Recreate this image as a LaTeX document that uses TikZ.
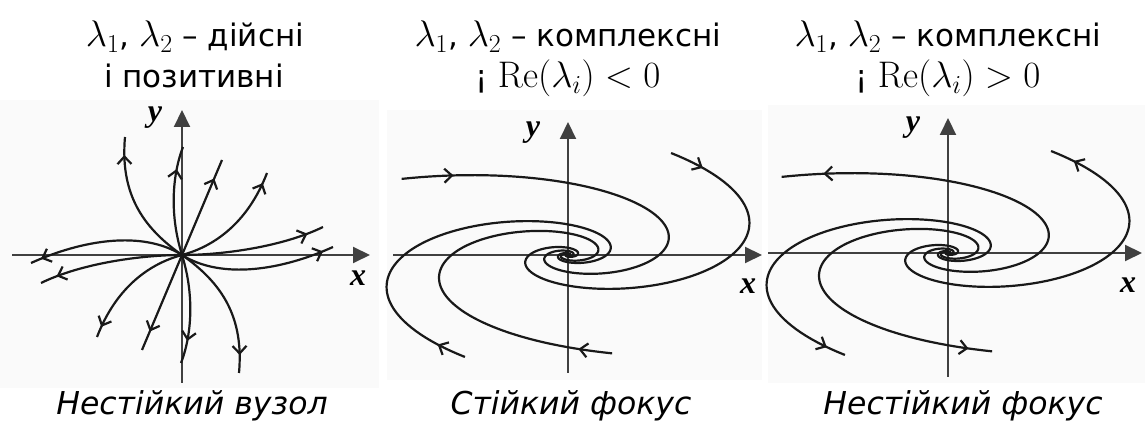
\RequirePackage{fix-cm}
\documentclass[tikz,border=0pt]{standalone}
\usepackage[no-math]{fontspec}
\setmainfont{DejaVu Sans}
\newfontfamily\axfont{Liberation Serif}
\usetikzlibrary{arrows.meta, decorations.markings}
\newcommand\mth[1]{{\fontsize{37}{40}\selectfont$#1$}}

\begin{document}
\begin{tikzpicture}[
  x=1pt, y=1pt,
  >={Straight Barb[length=7.5pt,width=14pt]},
  declare function={spx(\kk,\vv)=2.6*\kk*exp(0.46*\vv)*cos(\vv r);
                    spy(\kk,\vv)=\kk*exp(0.46*\vv)*sin(\vv r);},
  panel/.style={fill=black!2, draw=none},
  axis/.style={line width=2pt, black!75, -{Triangle[length=17pt,width=16pt]}},
  traj/.style={line width=2.2pt, line join=round, black!90},
  tipat/.style={postaction={decorate},
                decoration={markings, mark=at position #1 with {\arrow{>}}}},
  head/.style={font=\fontsize{31}{36}\selectfont, anchor=base},
  caption/.style={font=\fontsize{31.5}{36}\selectfont\itshape, anchor=base},
  axlabel/.style={font=\fontsize{32}{36}\selectfont\axfont\bfseries\itshape}
]
  \useasboundingbox (0,0) rectangle (1145,430);

  % panels
  \fill[panel] (0,42) rectangle (379,330);
  \fill[panel] (387,50) rectangle (762,320);
  \fill[panel] (768,47) rectangle (1145,325);

  % titles
  \node[head] (h1a) at (195,383) {\mth{\lambda_1}, \mth{\lambda_2} – дійсні};
  \node[head] (h1b) at (194,342) {і позитивні};
  \node[head] (h2a) at (568,383) {\mth{\lambda_1}, \mth{\lambda_2} – комплексні};
  \node[head] (h2b) at (568,342) {¡ \mth{\mathrm{Re}\bigl(\lambda_i\bigr)<0}};
  \node[head] (h3a) at (948,383) {\mth{\lambda_1}, \mth{\lambda_2} – комплексні};
  \node[head] (h3b) at (948,342) {¡ \mth{\mathrm{Re}\bigl(\lambda_i\bigr)>0}};

  \node[caption] (c1) at (192,15) {Нестійкий вузол};
  \node[caption] (c2) at (571,15) {Стійкий фокус};
  \node[caption] (c3) at (963,15) {Нестійкий фокус};

  % node
  \coordinate (o1) at (182,175);
  \coordinate (x1a) at (12,175);  \coordinate (x1b) at (370,175);
  \coordinate (y1a) at (182,47);  \coordinate (y1b) at (182,320);
  \draw[axis] (x1a) -- (x1b);
  \draw[axis] (y1a) -- (y1b);
  \node[axlabel] (lx1) at (358,152) {x};
  \node[axlabel] (ly1) at (155,312) {y};
  \foreach \r in {0,180} {
    \begin{scope}[shift={(o1)}, rotate=\r]
      \draw[traj, tipat=-18pt] (0,0) .. controls (-40,28) and (-62,62) .. (-57,118);
      \draw[traj, tipat=-23pt] (0,0) .. controls (-14,45) and (-8,85) .. (1,108);
      \draw[traj, tipat=-20pt] (0,0) -- (40,95);
      \draw[traj, tipat=-11pt] (0,0) .. controls (30,8) and (65,30) .. (85,82);
      \draw[traj, tipat=-17pt] (0,0) .. controls (40,0) and (100,8) .. (141,28);
      \draw[traj, tipat=-11pt] (0,0) .. controls (40,-25) and (100,-15) .. (151,8);
    \end{scope}
  }

  % foci
  \coordinate (o2) at (568,175);
  \coordinate (x2a) at (393,175); \coordinate (x2b) at (762,175);
  \coordinate (y2a) at (568,57);  \coordinate (y2b) at (568,308);
  \draw[axis] (x2a) -- (x2b);
  \draw[axis] (y2a) -- (y2b);
  \node[axlabel] (lx2) at (748,144) {x};
  \node[axlabel] (ly2) at (533,297) {y};

  \coordinate (o3) at (948,177);
  \coordinate (x3a) at (768,177); \coordinate (x3b) at (1142,177);
  \coordinate (y3a) at (948,53);  \coordinate (y3b) at (948,312);
  \draw[axis] (x3a) -- (x3b);
  \draw[axis] (y3a) -- (y3b);
  \node[axlabel] (lx3) at (1128,145) {x};
  \node[axlabel] (ly3) at (913,302) {y};

  \foreach \o/\dir in {o2/>, o3/<} {
    \begin{scope}[shift={(\o)}]
      \foreach \c/\s/\p in {35/2.27/52pt, 63/1.2/35pt, -63/1.2/30pt, 190/-1.4/34pt} {
        \draw[traj, postaction={decorate},
              decoration={markings, mark=at position \p with {\arrow{\dir}}}]
          plot[domain=0:14, samples=400, variable=\t] ({spx(\c,\s-\t)}, {spy(\c,\s-\t)});
      }
    \end{scope}
  }
\end{tikzpicture}
\end{document}
